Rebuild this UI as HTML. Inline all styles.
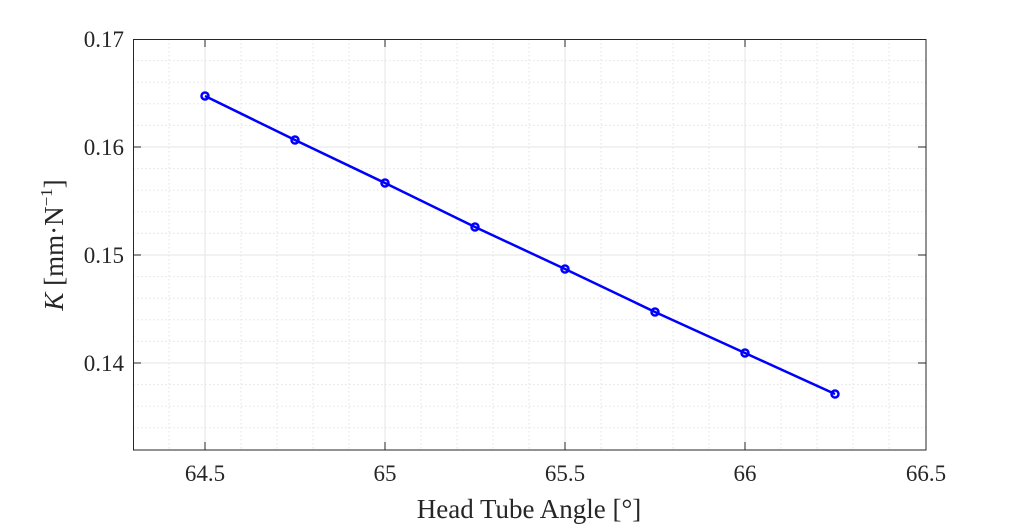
<!DOCTYPE html>
<html><head><meta charset="utf-8"><style>
html,body{margin:0;padding:0;background:#fff;}
svg{display:block;}
text{font-family:"Liberation Serif",serif;fill:#262626;}
</style></head><body>
<svg width="1024" height="528" viewBox="0 0 1024 528" xmlns="http://www.w3.org/2000/svg">
<rect x="0" y="0" width="1024" height="528" fill="#fff"/>
<g stroke="#e3e3e3" stroke-width="1" stroke-dasharray="1.5,2.5" fill="none">
<path d="M169 39V450M241 39V450M277 39V450M313 39V450M349 39V450M421 39V450M457 39V450M493 39V450M529 39V450M601 39V450M637 39V450M673 39V450M709 39V450M781 39V450M817 39V450M853 39V450M889 39V450"/>
<path d="M133 60.6H926M133 82.2H926M133 103.8H926M133 125.4H926M133 168.6H926M133 190.2H926M133 211.8H926M133 233.4H926M133 276.6H926M133 298.2H926M133 319.8H926M133 341.4H926M133 384.6H926M133 406.2H926M133 427.8H926"/>
</g>
<g stroke="#e6e6e6" stroke-width="1" fill="none">
<path d="M205 39V450M385 39V450M565 39V450M745 39V450"/>
<path d="M133 147H926M133 255H926M133 363H926"/>
</g>
<rect x="133.5" y="39.5" width="792.5" height="410.5" fill="none" stroke="#262626" stroke-width="1"/>
<g stroke="#262626" stroke-width="1">
<path d="M205 450v-8M385 450v-8M565 450v-8M745 450v-8M205 39v8M385 39v8M565 39v8M745 39v8"/>
<path d="M133 147h8M133 255h8M133 363h8M926 147h-8M926 255h-8M926 363h-8"/>
</g>
<polyline points="205,96 295,140 385,183 475,227 565,269 655,312 745,353 835,394" fill="none" stroke="#0000ff" stroke-width="2.5"/>
<g fill="none" stroke="#0000ff" stroke-width="2.5">
<circle cx="205" cy="96" r="3.5"/><circle cx="295" cy="140" r="3.5"/><circle cx="385" cy="183" r="3.5"/><circle cx="475" cy="227" r="3.5"/><circle cx="565" cy="269" r="3.5"/><circle cx="655" cy="312" r="3.5"/><circle cx="745" cy="353" r="3.5"/><circle cx="835" cy="394" r="3.5"/>
</g>
<g font-size="23" text-anchor="middle">
<text x="205" y="481">64.5</text>
<text x="385" y="481">65</text>
<text x="565" y="481">65.5</text>
<text x="745" y="481">66</text>
<text x="926" y="481">66.5</text>
</g>
<g font-size="23" text-anchor="end">
<text x="124" y="47">0.17</text>
<text x="124" y="155">0.16</text>
<text x="124" y="263">0.15</text>
<text x="124" y="371">0.14</text>
</g>
<text x="529" y="518" font-size="27" text-anchor="middle">Head Tube Angle [°]</text>
<text transform="translate(63,245) rotate(-90)" font-size="27" text-anchor="middle"><tspan font-style="italic">K</tspan> [mm·N<tspan font-size="17" dy="-11">−1</tspan><tspan dy="11">]</tspan></text>
</svg>
</body></html>
